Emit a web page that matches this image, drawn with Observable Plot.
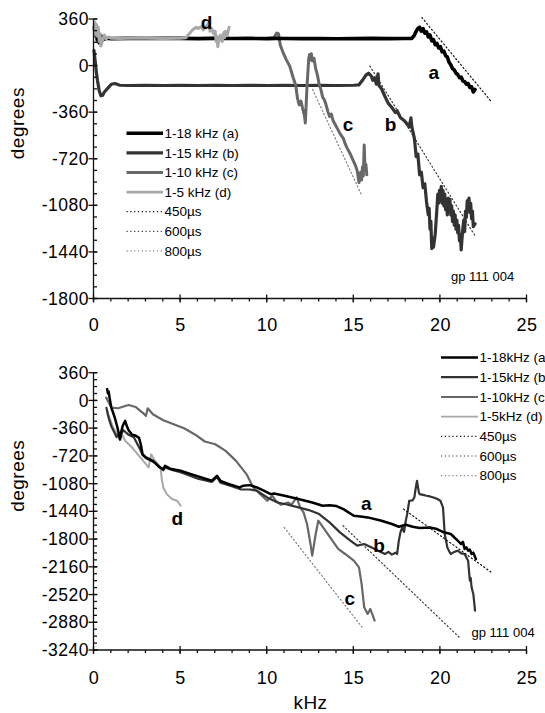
<!DOCTYPE html>
<html><head><meta charset="utf-8">
<script src="https://cdn.jsdelivr.net/npm/d3@7"></script>
<script src="https://cdn.jsdelivr.net/npm/@observablehq/plot@0.6"></script>
<style>
html,body{margin:0;padding:0;background:#fff;width:545px;height:713px;overflow:hidden;position:relative;font-family:'Liberation Sans',Arial,sans-serif;}
#top,#bottom,#overlay{position:absolute;left:0;}
#top{top:0px}#bottom{top:345px}#overlay{top:0px;pointer-events:none}
</style></head><body>
<div id="top"></div><div id="bottom"></div><svg id="overlay" width="545" height="713"></svg>
<script>
// ---------- DATA ----------
const xMajor = [0, 5, 10, 15, 20, 25];
const xMinor = d3.range(0, 26, 1);
const topYMajor = [360, 0, -360, -720, -1080, -1440, -1800];
const botYMajor = [360, 0, -360, -720, -1080, -1440, -1800, -2160, -2520, -2880, -3240];

const seriesNamesTop = ["1-18 kHz (a)", "1-15 kHz (b)", "1-10 kHz (c)", "1-5 kHz (d)"];
const seriesNamesBot = ["1-18kHz (a)", "1-15kHz (b)", "1-10kHz (c)", "1-5kHz (d)"];
const delayNames = ["450µs", "600µs", "800µs"];
const sourceNote = "gp 111 004";

// top panel: [kHz, degrees]
const topA = [[0.05,300],[0.1,250],[0.15,290],[0.2,210],[0.3,180],[0.4,230],[0.5,205],[0.7,215],[1.0,212],[2,214],[3,213],[4,215],[5,214],[6,212],[7,214],[8,213],[9,214],[10,212],[10.5,214],[11,213],[12,212],[13,213],[14,211],[15,212],[16,214],[17,212],[18,213],[18.35,214],[18.5,240],[18.6,270],[18.7,290],[18.8,300],[18.9,270],[19.0,290],[19.1,255],[19.2,265],[19.3,225],[19.4,240],[19.5,195],[19.6,205],[19.7,165],[19.8,175],[19.9,140],[20.0,150],[20.1,110],[20.2,115],[20.3,80],[20.4,70],[20.5,30],[20.6,10],[20.7,-20],[20.8,-30],[20.9,-55],[21.0,-65],[21.1,-90],[21.2,-85],[21.3,-115],[21.4,-120],[21.5,-140],[21.6,-135],[21.7,-165],[21.8,-160],[21.9,-200],[22.0,-180]];
const topB = [[0.0,120],[0.05,60],[0.1,0],[0.15,-60],[0.2,-110],[0.3,-190],[0.4,-230],[0.5,-225],[0.6,-200],[0.8,-170],[1.0,-140],[1.2,-135],[1.5,-148],[2,-150],[3,-148],[4,-150],[5,-149],[6,-150],[7,-148],[8,-150],[9,-149],[10,-150],[11,-148],[12,-150],[13,-149],[14,-150],[15,-148],[15.3,-145],[15.5,-110],[15.7,-70],[15.85,-55],[16.0,-75],[16.1,-110],[16.2,-90],[16.3,-140],[16.4,-60],[16.45,-150],[16.6,-175],[16.8,-235],[17.0,-290],[17.2,-320],[17.4,-360],[17.5,-345],[17.7,-400],[17.9,-420],[18.1,-450],[18.2,-470],[18.3,-400],[18.35,-470],[18.5,-560],[18.6,-700],[18.7,-680],[18.8,-840],[18.9,-820],[19.0,-940],[19.1,-910],[19.2,-1050],[19.3,-1150],[19.35,-1100],[19.4,-1260],[19.45,-1200],[19.5,-1410],[19.55,-1330],[19.6,-1400],[19.7,-1300],[19.75,-1200],[19.8,-1100],[19.85,-990],[19.9,-1060],[19.95,-960],[20.0,-1040],[20.05,-930],[20.1,-1060],[20.15,-960],[20.2,-1080],[20.25,-990],[20.3,-1110],[20.35,-1040],[20.4,-1150],[20.45,-1020],[20.5,-1100],[20.55,-1030],[20.6,-1150],[20.65,-1080],[20.7,-1200],[20.75,-1120],[20.8,-1230],[20.85,-1150],[20.9,-1260],[20.95,-1190],[21.0,-1290],[21.05,-1230],[21.1,-1350],[21.15,-1300],[21.2,-1420],[21.25,-1330],[21.3,-1250],[21.35,-1190],[21.4,-1280],[21.45,-1120],[21.5,-1170],[21.55,-1040],[21.6,-1100],[21.65,-1020],[21.7,-1130],[21.75,-1060],[21.8,-1180],[21.85,-1120],[21.9,-1240],[22.0,-1220]];
const topC = [[0.0,300],[0.05,230],[0.1,320],[0.15,200],[0.2,280],[0.3,190],[0.4,240],[0.5,200],[0.7,215],[1,214],[2,213],[3,215],[4,213],[5,214],[6,213],[7,215],[8,213],[9,214],[10,213],[10.4,220],[10.55,255],[10.65,250],[10.75,165],[10.9,110],[11.1,50],[11.3,0],[11.5,-90],[11.65,-150],[11.75,-250],[11.85,-300],[11.95,-270],[12.05,-330],[12.15,-380],[12.2,-440],[12.25,-300],[12.3,-150],[12.4,60],[12.45,90],[12.5,50],[12.55,95],[12.6,40],[12.7,60],[12.8,-20],[12.9,-70],[13.0,-140],[13.1,-180],[13.2,-240],[13.3,-260],[13.4,-300],[13.5,-350],[13.6,-390],[13.7,-370],[13.8,-420],[14.0,-470],[14.2,-520],[14.4,-560],[14.5,-600],[14.6,-630],[14.8,-680],[15.0,-740],[15.1,-770],[15.2,-810],[15.3,-900],[15.35,-850],[15.4,-820],[15.45,-880],[15.5,-780],[15.55,-850],[15.6,-610],[15.65,-800],[15.7,-760],[15.75,-840]];
const topD = [[0.0,280],[0.03,340],[0.06,250],[0.09,330],[0.12,240],[0.15,320],[0.2,230],[0.25,300],[0.3,190],[0.35,250],[0.4,155],[0.5,200],[0.6,240],[0.7,210],[0.8,225],[1.0,215],[1.5,214],[2,216],[3,215],[4,214],[5,216],[5.3,218],[5.5,250],[5.7,280],[5.9,300],[6.0,290],[6.2,305],[6.3,280],[6.5,310],[6.6,330],[6.7,270],[6.8,290],[6.9,250],[7.0,270],[7.05,190],[7.1,230],[7.15,150],[7.2,200],[7.3,240],[7.4,190],[7.5,260],[7.55,220],[7.6,270],[7.7,240],[7.8,300]];

// bottom panel: [kHz, degrees]
const botA = [[0.76,151],[0.8,100],[0.85,120],[0.9,40],[1.0,-86],[1.1,-150],[1.2,-216],[1.3,-300],[1.4,-389],[1.5,-500],[1.55,-420],[1.65,-330],[1.75,-280],[1.8,-259],[1.9,-330],[2.0,-380],[2.2,-440],[2.4,-450],[2.6,-480],[2.7,-562],[2.8,-690],[3.0,-734],[3.4,-778],[3.8,-864],[4.0,-886],[4.1,-842],[4.4,-880],[5.0,-907],[5.6,-950],[6.2,-994],[6.8,-1037],[7.0,-994],[7.1,-972],[7.3,-1037],[7.8,-1080],[8.4,-1123],[8.6,-1102],[9.0,-1093],[9.4,-1123],[9.8,-1166],[10.2,-1210],[10.4,-1201],[11.0,-1231],[11.8,-1274],[12.6,-1318],[13.2,-1361],[13.6,-1355],[14.0,-1365],[14.4,-1404],[15.0,-1490],[15.5,-1503],[15.8,-1512],[16.6,-1555],[17.2,-1598],[17.6,-1633],[18.0,-1607],[18.4,-1633],[18.8,-1650],[19.4,-1642],[19.8,-1663],[20.2,-1706],[20.6,-1728],[20.8,-1770],[21.0,-1814],[21.2,-1858],[21.3,-1830],[21.4,-1922],[21.5,-1900],[21.6,-1944],[21.7,-1930],[21.8,-1987],[21.9,-1970],[22.05,-2052]];
const botB = [[0.72,-90],[0.8,-180],[0.9,-260],[1.0,-330],[1.2,-420],[1.3,-470],[1.4,-430],[1.5,-500],[1.6,-420],[1.7,-380],[1.8,-400],[2.0,-440],[2.3,-470],[2.6,-600],[2.8,-700],[3.0,-745],[3.5,-800],[4.0,-900],[4.1,-865],[4.5,-895],[5.0,-925],[6.0,-1010],[6.8,-1050],[7.0,-1010],[7.1,-990],[7.3,-1060],[8.0,-1110],[8.5,-1150],[9.0,-1150],[9.4,-1166],[10.0,-1253],[10.6,-1318],[11.2,-1348],[11.8,-1382],[12.4,-1417],[13.0,-1469],[13.6,-1577],[14.2,-1706],[14.8,-1814],[15.2,-1879],[15.6,-1858],[16.0,-1901],[16.4,-1944],[16.8,-1987],[17.0,-1960],[17.2,-1995],[17.4,-1970],[17.5,-1987],[17.6,-1814],[17.7,-1700],[17.8,-1642],[17.9,-1700],[18.0,-1555],[18.1,-1450],[18.2,-1296],[18.4,-1290],[18.5,-1250],[18.55,-1166],[18.65,-1037],[18.75,-1180],[18.8,-1210],[19.0,-1220],[19.2,-1231],[19.4,-1240],[19.6,-1253],[19.8,-1270],[20.0,-1296],[20.15,-1382],[20.25,-1728],[20.4,-1901],[20.5,-1950],[20.6,-1987],[20.8,-1960],[21.0,-1944],[21.2,-1980],[21.4,-1987],[21.6,-2074],[21.7,-2333],[21.75,-2300],[21.8,-2419],[21.9,-2506],[22.0,-2722]];
const botC = [[0.7,43],[0.85,-20],[1.0,-86],[1.4,-95],[1.8,-65],[2.0,-52],[2.4,-78],[2.8,-151],[3.0,-194],[3.1,-95],[3.4,-173],[4.0,-250],[4.6,-302],[5.2,-354],[5.8,-432],[6.4,-527],[7.0,-562],[7.6,-648],[8.2,-778],[8.8,-950],[9.2,-1123],[9.6,-1210],[10.0,-1296],[10.3,-1231],[10.5,-1296],[10.8,-1348],[11.2,-1318],[11.4,-1348],[11.7,-1253],[11.9,-1382],[12.1,-1447],[12.3,-1598],[12.5,-1858],[12.6,-2009],[12.8,-1728],[12.95,-1555],[13.3,-1663],[13.7,-1793],[14.1,-1922],[14.5,-1987],[15.0,-2074],[15.3,-2160],[15.45,-2376],[15.6,-2678],[15.8,-2765],[15.95,-2700],[16.1,-2786],[16.2,-2851]];
const botD = [[0.76,-130],[0.9,-216],[1.1,-346],[1.4,-454],[1.6,-432],[1.8,-518],[2.2,-605],[2.6,-713],[3.0,-821],[3.15,-864],[3.3,-691],[3.4,-734],[3.6,-799],[3.85,-864],[3.9,-994],[4.0,-1123],[4.2,-1210],[4.5,-1274],[4.8,-1296],[5.0,-1361]];

// delay reference lines: [delay µs, start kHz, end kHz, phase at start]
const topDelayLines = [[450, 18.93, 22.94, 375], [600, 15.93, 22.04, 0], [800, 12.62, 15.42, -181]];
const botDelayLines = [[450, 17.87, 22.96, -1404], [600, 14.38, 21.07, -1620], [800, 10.98, 15.53, -1642]];

// curve letters: [kHz, degrees, text]
const topLabels = [[19.63, -52, "a"], [17.13, -458, "b"], [14.68, -458, "c"], [6.51, 337, "d"]];
const botLabels = [[15.73, -1331, "a"], [16.47, -1888, "b"], [14.78, -2570, "c"], [4.83, -1534, "d"]];

// ---------- STYLE ----------
const seriesColors = ["#000000", "#333333", "#686868", "#a8a8a8"]; // a, b, c, d
const delayColors = ["#111111", "#3a3a3a", "#808080"];
const FONT = "'Liberation Sans', Arial, sans-serif";

function delayPts(lines) {
  return lines.flatMap(([us, f0, f1, p0], i) =>
    [f0, f1].map(f => ({f, p: p0 - 360 * (us / 1000) * (f - f0), k: i})));
}

function panel({series, delays, labels, yDomain, yMajor, height, marginTop, marginBottom, xPad, xLabel}) {
  const dp = delayPts(delays);
  const marks = [];
  series.forEach(s => marks.push(Plot.line(s.data, {x: d => d[0], y: d => d[1], stroke: seriesColors[s.k], strokeWidth: s.w, strokeLinejoin: "round", strokeLinecap: "round"})));
  [0, 1, 2].forEach(k => marks.push(Plot.line(dp.filter(d => d.k === k), {x: "f", y: "p", stroke: delayColors[k], strokeWidth: 1.2, strokeDasharray: "1.2,2.6"})));
  marks.push(Plot.text(labels, {x: d => d[0], y: d => d[1], text: d => d[2], fontWeight: "bold", fontSize: 19, fill: "#000"}));
  marks.push(Plot.axisY(yMajor, {tickSize: 0, tickPadding: 5, fontSize: 17.5, tickFormat: d => String(d), label: null}));
  marks.push(Plot.axisX(xMajor, {tickSize: 0, tickPadding: xPad, fontSize: 18, tickFormat: d => String(d), label: null}));
  marks.push(Plot.text(["degrees"], {frameAnchor: "left", rotate: -90, dx: -76, fontSize: 19}));
  if (xLabel) marks.push(Plot.text([xLabel], {frameAnchor: "bottom", dy: 58, fontSize: 19}));
  const chart = Plot.plot({
    width: 545, height, marginTop, marginBottom, marginLeft: 93.5, marginRight: 18.5,
    x: {domain: [0, 25]}, y: {domain: yDomain},
    style: {fontFamily: FONT, fontSize: "16px", background: "transparent", overflow: "visible", color: "#000"},
    marks
  });
  d3.select(chart).selectAll("text").style("letter-spacing", "0.5px");
  // axis lines and tick marks through the plot's own scales
  const sx = chart.scale("x"), sy = chart.scale("y");
  const fx = sx.apply ? v => sx.apply(v) : d3.scaleLinear(sx.domain, sx.range);
  const fy = sy.apply ? v => sy.apply(v) : d3.scaleLinear(sy.domain, sy.range);
  const yb = fy(yDomain[0]), yt = fy(yDomain[1]), x0 = fx(0);
  const g = d3.select(chart).append("g").attr("stroke", "#111").attr("stroke-width", 1.3).attr("fill", "none");
  g.append("line").attr("x1", fx(0)).attr("x2", fx(25)).attr("y1", yb).attr("y2", yb);
  g.append("line").attr("x1", x0).attr("x2", x0).attr("y1", yb).attr("y2", yt);
  xMinor.forEach(v => g.append("line").attr("x1", fx(v)).attr("x2", fx(v)).attr("y1", yb).attr("y2", yb + 3));
  xMajor.forEach(v => g.append("line").attr("x1", fx(v)).attr("x2", fx(v)).attr("y1", yb - 4).attr("y2", yb + 4));
  d3.range(yDomain[0], yDomain[1] + 1, 90).forEach(v => g.append("line").attr("x1", x0).attr("x2", x0 + 3.5).attr("y1", fy(v)).attr("y2", fy(v)));
  yMajor.forEach(v => g.append("line").attr("x1", x0 - 5).attr("x2", x0 + 4).attr("y1", fy(v)).attr("y2", fy(v)));
  return chart;
}

document.getElementById("top").append(panel({
  series: [{data: topB, k: 1, w: 3.2}, {data: topC, k: 2, w: 3}, {data: topA, k: 0, w: 3.6}, {data: topD, k: 3, w: 3}],
  delays: topDelayLines, labels: topLabels,
  yDomain: [-1800, 360], yMajor: topYMajor,
  height: 345, marginTop: 19, marginBottom: 46.5, xPad: 19, xLabel: null
}));
document.getElementById("bottom").append(panel({
  series: [{data: botD, k: 3, w: 2}, {data: botC, k: 2, w: 2.2}, {data: botB, k: 1, w: 2.2}, {data: botA, k: 0, w: 2.5}],
  delays: botDelayLines, labels: botLabels,
  yDomain: [-3240, 360], yMajor: botYMajor,
  height: 368, marginTop: 27.7, marginBottom: 63, xPad: 21, xLabel: "kHz"
}));

// ---------- LEGENDS (overlay) ----------
function legend(svg, names, x1, x2, tx, y0, dy, widths) {
  const rows = names.map((n, i) => ({n, i}));
  const g = svg.append("g").attr("font-family", FONT).attr("font-size", 13.5);
  rows.forEach(({n, i}) => {
    const y = y0 + i * dy;
    const isDelay = i >= 4;
    g.append("line").attr("x1", x1).attr("x2", x2).attr("y1", y).attr("y2", y)
      .attr("stroke", isDelay ? delayColors[i - 4] : seriesColors[i])
      .attr("stroke-width", isDelay ? 1.2 : widths[i])
      .attr("stroke-dasharray", isDelay ? "1.2,2.6" : null);
    g.append("text").attr("x", tx).attr("y", y).attr("dy", "0.35em").attr("fill", "#000").text(n);
  });
}
const ov = d3.select("#overlay");
legend(ov, [...seriesNamesTop, ...delayNames], 126.5, 163, 164.5, 133.3, 19.6, [3.6, 3.2, 3, 2.6]);
legend(ov, [...seriesNamesBot, ...delayNames], 441, 478, 479.5, 357.5, 19.7, [2.4, 2.2, 2, 1.8]);
ov.append("text").attr("x", 451).attr("y", 276).attr("dy", "0.35em").attr("font-family", FONT).attr("font-size", 13).text(sourceNote);
ov.append("text").attr("x", 471.5).attr("y", 632.7).attr("dy", "0.35em").attr("font-family", FONT).attr("font-size", 13).text(sourceNote);
</script>
</body></html>
